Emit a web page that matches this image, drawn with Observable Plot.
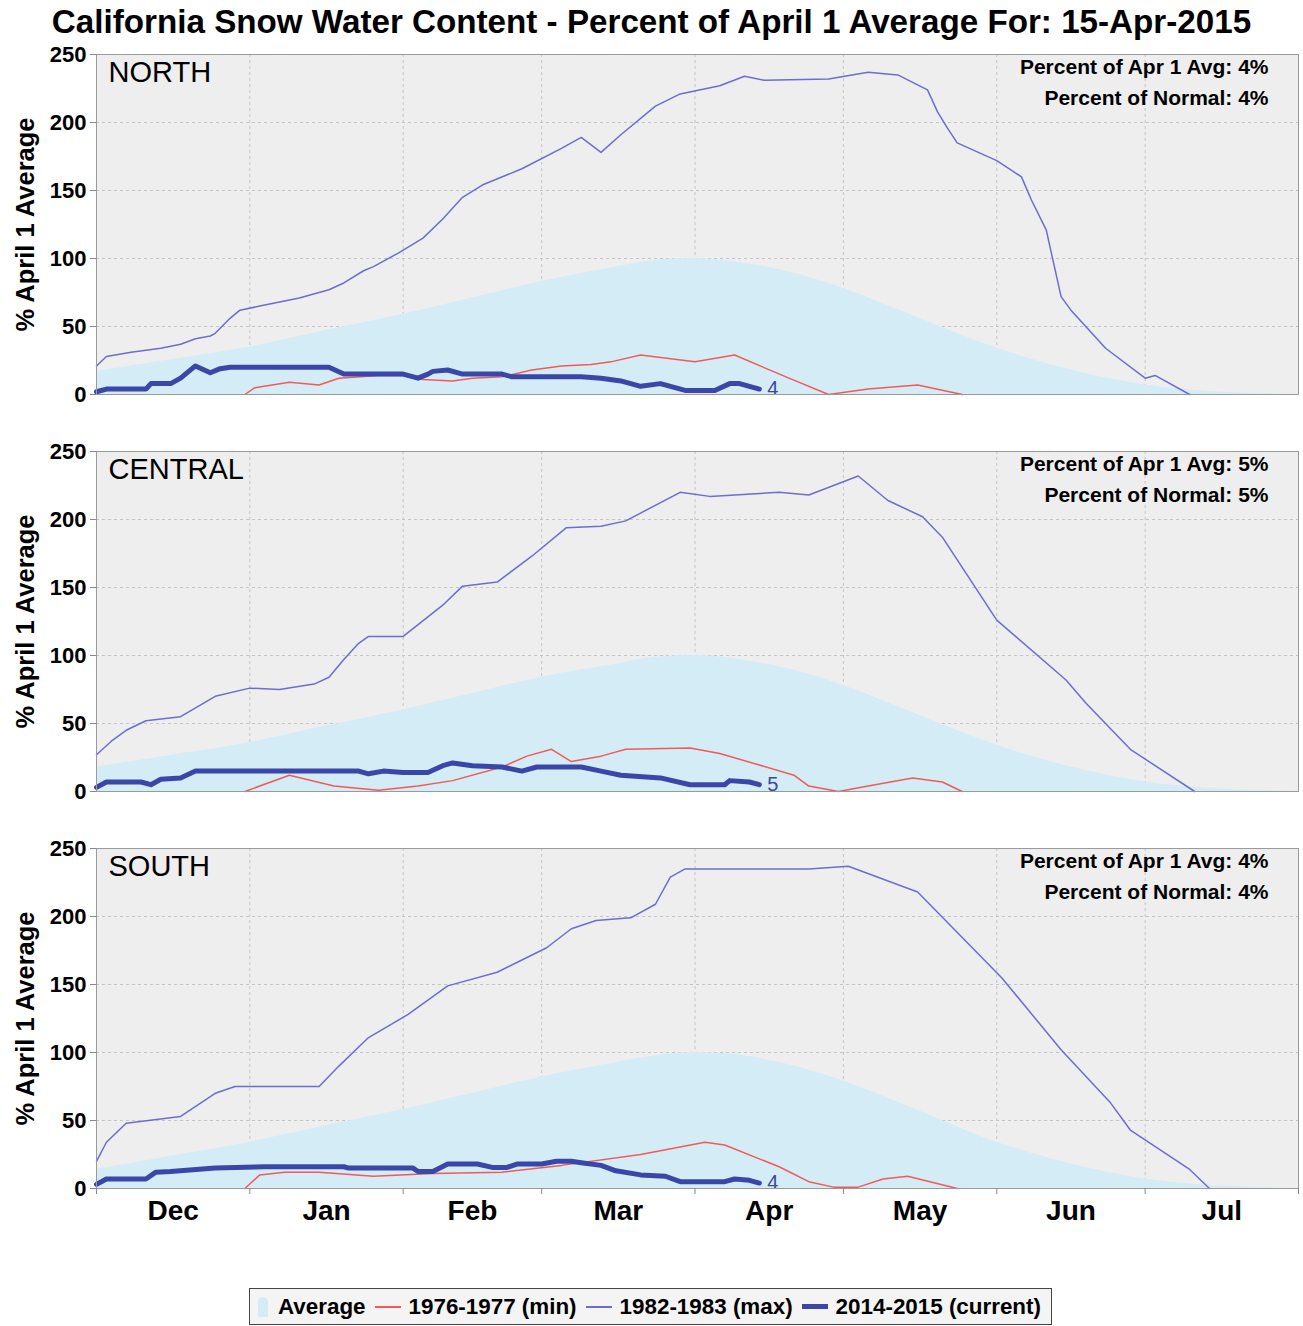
<!DOCTYPE html>
<html>
<head>
<meta charset="utf-8">
<script src="https://cdn.jsdelivr.net/npm/d3@7"></script>
<script src="https://cdn.jsdelivr.net/npm/@observablehq/plot@0.6"></script>
<style>
  html, body { margin: 0; padding: 0; background: #ffffff; }
  body { font-family: "Liberation Sans", Arial, sans-serif; color: #000; }
  #wrap { width: 1303px; }
  #title { height: 44px; line-height: 44px; text-align: center; font-size: 33.2px; font-weight: bold; white-space: nowrap; }
  #legend { margin: 53px 0 0 249px; width: 803px; height: 37px; box-sizing: border-box; border: 1px solid #444;
            display: flex; align-items: center; padding-left: 8px; font-size: 22.4px; font-weight: bold; background: #f4f4f4; white-space: nowrap; }
  .sw { display: inline-block; margin-right: 8px; }
  .item { display: flex; align-items: center; margin-right: 9px; }
</style>
</head>
<body>
<div id="wrap">
  <div id="title">California Snow Water Content - Percent of April 1 Average For: 15-Apr-2015</div>
  <div id="panels"></div>
  <div id="legend"></div>
</div>
<script>
// ---------------- data ----------------
const monthLabels = ["Dec", "Jan", "Feb", "Mar", "Apr", "May", "Jun", "Jul"];
const yTicks = [0, 50, 100, 150, 200, 250];
const regions = ["NORTH", "CENTRAL", "SOUTH"];
const pctApr1 = [4, 5, 4];
const pctNormal = [4, 5, 4];
const seriesNames = ["Average", "1976-1977 (min)", "1982-1983 (max)", "2014-2015 (current)"];
const seriesColors = ["#d3ecf5", "#f25a5a", "#6c6cd2", "#3a47a8"];
const yLabel = "% April 1 Average";

const northAvg = [["2014-12-01",17],["2014-12-15",25],["2015-01-01",35],["2015-01-15",46],["2015-02-01",59],["2015-02-15",71],["2015-03-01",83],["2015-03-15",93],["2015-03-25",99],["2015-04-01",100],["2015-04-10",97],["2015-04-20",90],["2015-05-01",78],["2015-05-15",58],["2015-06-01",34],["2015-06-15",19],["2015-07-01",7],["2015-07-15",2],["2015-07-31",0]];
const northMin = [["2014-12-31",0],["2015-01-02",5],["2015-01-09",9],["2015-01-15",7],["2015-01-19",12],["2015-01-27",14],["2015-02-01",14],["2015-02-05",11],["2015-02-11",10],["2015-02-15",12],["2015-02-21",13],["2015-02-27",18],["2015-03-05",21],["2015-03-11",22],["2015-03-15",24],["2015-03-21",29],["2015-04-01",24],["2015-04-09",29],["2015-04-20",12],["2015-04-28",0],["2015-05-06",4],["2015-05-16",7],["2015-05-25",0]];
const northMax = [["2014-12-01",21],["2014-12-03",28],["2014-12-08",31],["2014-12-14",34],["2014-12-18",37],["2014-12-21",41],["2014-12-24",43],["2014-12-25",45],["2014-12-28",56],["2014-12-30",62],["2015-01-03",65],["2015-01-11",71],["2015-01-17",77],["2015-01-20",82],["2015-01-24",91],["2015-01-26",94],["2015-01-31",104],["2015-02-05",115],["2015-02-09",129],["2015-02-13",145],["2015-02-17",154],["2015-02-25",166],["2015-03-05",181],["2015-03-09",189],["2015-03-13",178],["2015-03-17",191],["2015-03-24",212],["2015-03-29",221],["2015-04-06",227],["2015-04-11",234],["2015-04-15",231],["2015-04-28",232],["2015-05-06",237],["2015-05-12",235],["2015-05-18",224],["2015-05-20",208],["2015-05-22",196],["2015-05-24",185],["2015-06-01",172],["2015-06-06",160],["2015-06-08",143],["2015-06-11",121],["2015-06-14",72],["2015-06-16",62],["2015-06-23",34],["2015-07-01",12],["2015-07-03",14],["2015-07-10",0]];
const northCur = [["2014-12-01",2],["2014-12-03",4],["2014-12-11",4],["2014-12-12",8],["2014-12-16",8],["2014-12-18",12],["2014-12-21",21],["2014-12-24",16],["2014-12-26",19],["2014-12-28",20],["2015-01-17",20],["2015-01-20",15],["2015-02-01",15],["2015-02-04",12],["2015-02-06",15],["2015-02-07",17],["2015-02-10",18],["2015-02-13",15],["2015-02-21",15],["2015-02-23",13],["2015-03-09",13],["2015-03-13",12],["2015-03-17",10],["2015-03-21",6],["2015-03-25",8],["2015-03-30",3],["2015-04-05",3],["2015-04-08",8],["2015-04-10",8],["2015-04-14",4]];

const centralAvg = [["2014-12-01",18],["2014-12-15",26],["2015-01-01",36],["2015-01-15",47],["2015-02-01",60],["2015-02-15",72],["2015-03-01",84],["2015-03-15",93],["2015-03-25",99],["2015-04-01",100],["2015-04-10",97],["2015-04-20",90],["2015-05-01",78],["2015-05-15",58],["2015-06-01",34],["2015-06-15",19],["2015-07-01",7],["2015-07-15",2],["2015-07-31",0]];
const centralMin = [["2014-12-31",0],["2015-01-09",12],["2015-01-18",4],["2015-01-27",1],["2015-02-04",4],["2015-02-11",8],["2015-02-21",18],["2015-02-26",26],["2015-03-03",31],["2015-03-07",22],["2015-03-13",26],["2015-03-18",31],["2015-03-31",32],["2015-04-06",28],["2015-04-21",12],["2015-04-24",4],["2015-04-30",0],["2015-05-06",4],["2015-05-15",10],["2015-05-21",7],["2015-05-25",0]];
const centralMax = [["2014-12-01",27],["2014-12-04",37],["2014-12-07",45],["2014-12-11",52],["2014-12-18",55],["2014-12-25",70],["2015-01-01",76],["2015-01-07",75],["2015-01-14",79],["2015-01-17",84],["2015-01-20",97],["2015-01-23",109],["2015-01-25",114],["2015-02-01",114],["2015-02-09",137],["2015-02-13",151],["2015-02-20",154],["2015-02-27",173],["2015-03-06",194],["2015-03-13",195],["2015-03-18",199],["2015-03-29",220],["2015-04-04",217],["2015-04-18",220],["2015-04-24",218],["2015-05-04",232],["2015-05-10",214],["2015-05-17",202],["2015-05-21",187],["2015-06-01",126],["2015-06-15",82],["2015-06-19",65],["2015-06-28",31],["2015-07-11",0]];
const centralCur = [["2014-12-01",3],["2014-12-03",7],["2014-12-10",7],["2014-12-12",5],["2014-12-14",9],["2014-12-18",10],["2014-12-21",15],["2015-01-23",15],["2015-01-25",13],["2015-01-28",15],["2015-02-01",14],["2015-02-06",14],["2015-02-09",19],["2015-02-11",21],["2015-02-15",19],["2015-02-21",18],["2015-02-25",15],["2015-02-28",18],["2015-03-09",18],["2015-03-13",15],["2015-03-17",12],["2015-03-25",10],["2015-03-31",5],["2015-04-07",5],["2015-04-08",8],["2015-04-12",7],["2015-04-14",5]];

const southAvg = [["2014-12-01",14],["2014-12-15",23],["2015-01-01",34],["2015-01-15",45],["2015-02-01",58],["2015-02-15",70],["2015-03-01",82],["2015-03-15",92],["2015-03-25",98],["2015-04-01",100],["2015-04-10",98],["2015-04-20",91],["2015-05-01",79],["2015-05-15",59],["2015-06-01",34],["2015-06-15",19],["2015-07-01",7],["2015-07-15",2],["2015-07-31",0]];
const southMin = [["2014-12-31",0],["2015-01-03",10],["2015-01-08",12],["2015-01-15",12],["2015-01-26",9],["2015-02-07",11],["2015-02-21",12],["2015-03-05",17],["2015-03-21",25],["2015-04-03",34],["2015-04-07",32],["2015-04-18",16],["2015-04-24",5],["2015-04-29",1],["2015-05-04",1],["2015-05-09",7],["2015-05-14",9],["2015-05-24",0]];
const southMax = [["2014-12-01",20],["2014-12-03",34],["2014-12-07",48],["2014-12-18",53],["2014-12-25",70],["2014-12-29",75],["2015-01-15",75],["2015-01-19",90],["2015-01-25",111],["2015-02-02",128],["2015-02-10",149],["2015-02-20",159],["2015-02-25",168],["2015-03-02",177],["2015-03-07",191],["2015-03-12",197],["2015-03-19",199],["2015-03-24",209],["2015-03-27",229],["2015-03-30",235],["2015-04-24",235],["2015-05-02",237],["2015-05-16",218],["2015-06-02",155],["2015-06-14",102],["2015-06-24",63],["2015-06-28",43],["2015-07-10",14],["2015-07-14",0]];
const southCur = [["2014-12-01",3],["2014-12-03",7],["2014-12-11",7],["2014-12-13",12],["2014-12-16",12.5],["2014-12-25",15],["2015-01-04",16],["2015-01-20",16],["2015-01-21",15],["2015-02-03",15],["2015-02-04",12.5],["2015-02-07",12.5],["2015-02-10",18],["2015-02-16",18],["2015-02-19",15.5],["2015-02-22",15.5],["2015-02-24",18],["2015-03-01",18],["2015-03-04",20],["2015-03-07",20],["2015-03-09",19],["2015-03-13",17],["2015-03-16",13],["2015-03-21",10],["2015-03-26",9],["2015-03-29",5],["2015-04-07",5],["2015-04-09",7],["2015-04-12",6],["2015-04-14",4]];

const panelData = [
  [northAvg, northMin, northMax, northCur],
  [centralAvg, centralMin, centralMax, centralCur],
  [southAvg, southMin, southMax, southCur]
];

// ---------------- drawing ----------------
const parse = s => new Date(s + "T00:00:00Z");
const X = d => parse(d[0]);
const Y = d => d[1];
const xStart = parse("2014-12-01"), xEnd = parse("2015-08-01");
const monthStarts = d3.utcMonth.range(xStart, xEnd);                      // Dec 1 .. Jul 1
const monthEdges = d3.utcMonth.range(xStart, d3.utcDay.offset(xEnd, 1));  // Dec 1 .. Aug 1
const midMonths = monthStarts.map(m => new Date((m.getTime() + d3.utcMonth.offset(m, 1).getTime()) / 2));
const FONT = "'Liberation Sans', Arial, sans-serif";

function panel(i) {
  const [avg, mn, mx, cur] = panelData[i];
  const last = cur[cur.length - 1];
  const bottom = i === regions.length - 1;
  const marks = [
    Plot.frame({fill: "#eeeeee"}),
    Plot.gridY(yTicks.slice(1), {stroke: "#c4c4c4", strokeOpacity: 1, strokeDasharray: "3,3"}),
    Plot.gridX(monthStarts.slice(1), {stroke: "#c4c4c4", strokeOpacity: 1, strokeDasharray: "3,3"}),
    Plot.areaY(avg, {x: X, y: Y, fill: seriesColors[0], curve: "monotone-x"}),
    Plot.line(mn, {x: X, y: Y, stroke: seriesColors[1], strokeWidth: 1.5}),
    Plot.line(mx, {x: X, y: Y, stroke: seriesColors[2], strokeWidth: 1.5}),
    Plot.line(cur, {x: X, y: Y, stroke: seriesColors[3], strokeWidth: 5, strokeLinejoin: "round"}),
    Plot.text([last], {x: X, y: Y, text: d => String(Math.round(d[1])), dx: 8, textAnchor: "start", fill: seriesColors[3], fontSize: 20}),
    Plot.frame({stroke: "#9a9a9a"}),
    Plot.axisY(yTicks, {tickSize: 6, tickPadding: 4, fontSize: 22, fontWeight: "bold", stroke: "#888", label: null}),
    Plot.text([yLabel], {text: d => d, frameAnchor: "left", textAnchor: "middle", rotate: -90, dx: -71, fontSize: 25.5, fontWeight: "bold"}),
    Plot.text([regions[i]], {text: d => d, frameAnchor: "top-left", dx: 12, dy: 18, lineAnchor: "middle", fontSize: 29}),
    Plot.text([`Percent of Apr 1 Avg: ${pctApr1[i]}%`], {text: d => d, frameAnchor: "top-right", dx: -30, dy: 13, lineAnchor: "middle", textAnchor: "end", fontSize: 21, fontWeight: "bold"}),
    Plot.text([`Percent of Normal: ${pctNormal[i]}%`], {text: d => d, frameAnchor: "top-right", dx: -30, dy: 44, lineAnchor: "middle", textAnchor: "end", fontSize: 21, fontWeight: "bold"})
  ];
  if (bottom) {
    marks.push(Plot.axisX(monthEdges, {tickSize: 6, tickFormat: () => "", stroke: "#888", label: null}));
    marks.push(Plot.axisX(midMonths, {tickSize: 0, tickPadding: 12, fontSize: 28, fontWeight: "bold", label: null,
      tickFormat: d => monthLabels[midMonths.findIndex(m => m.getTime() === d.getTime())]}));
  }
  return Plot.plot({
    width: 1303, height: 397,
    marginLeft: 96, marginRight: 5, marginTop: 10, marginBottom: 47,
    style: {fontFamily: FONT, fontSize: "22px", color: "#000", background: "transparent", overflow: "visible"},
    x: bottom ? {type: "utc", domain: [xStart, xEnd]} : {type: "utc", domain: [xStart, xEnd], axis: null},
    y: {domain: [0, 250], axis: null},
    marks
  });
}

const host = document.getElementById("panels");
regions.forEach((r, i) => host.appendChild(panel(i)));

// legend
const leg = document.getElementById("legend");
seriesNames.forEach((name, k) => {
  const item = document.createElement("span");
  item.className = "item";
  const sw = document.createElement("span");
  sw.className = "sw";
  if (k === 0) {
    sw.style.cssText = `width:10px;height:20px;background:${seriesColors[0]};border-radius:5px 5px 0 0;margin-right:10px;`;
  } else {
    const h = k === 3 ? 5 : 2;
    sw.style.cssText = `width:26px;height:${h}px;background:${seriesColors[k]};`;
  }
  const t = document.createElement("span");
  t.textContent = name;
  item.appendChild(sw);
  item.appendChild(t);
  leg.appendChild(item);
});
</script>
</body>
</html>
